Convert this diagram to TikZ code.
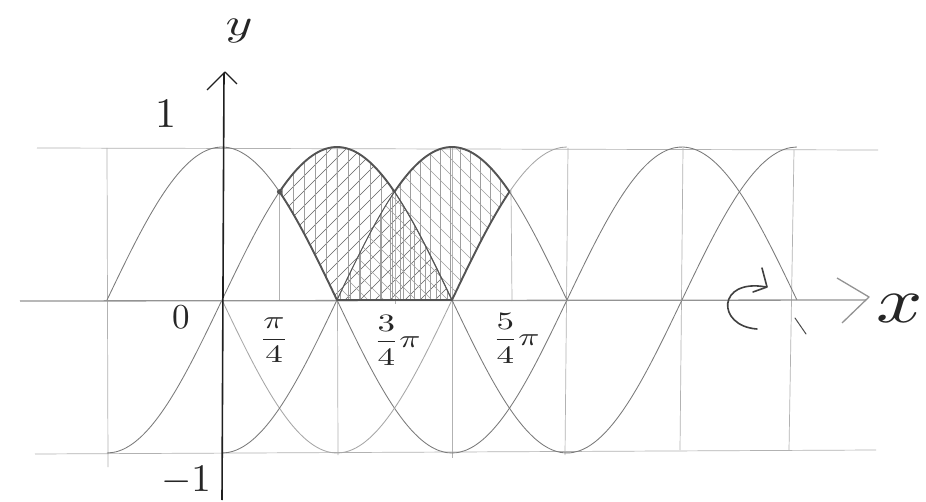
\documentclass[tikz,border=0pt]{standalone}
\usetikzlibrary{calc}
\definecolor{gridc}{gray}{0.70}
\definecolor{curvec}{gray}{0.48}
\definecolor{darkc}{gray}{0.33}
\definecolor{axisc}{gray}{0.12}
\definecolor{hatchA}{gray}{0.38}
\definecolor{hatchB}{gray}{0.62}
\tikzset{
  gridline/.style={draw=gridc, line width=0.7pt},
  curve/.style={draw=curvec, line width=0.85pt},
  outline/.style={draw=darkc, line width=1.9pt, line join=round, line cap=round},
  inner curve/.style={draw=darkc, line width=1.1pt},
  lbl/.style={text=black!85, inner sep=0pt},
  hatchline/.style={line width=0.6pt},
}
\begin{document}
\begin{tikzpicture}[x=1pt,y=-1pt]
\useasboundingbox (0,0) rectangle (926,502);
\fill[white] (0,0) rectangle (926,502);

% ---------- hatching of region A (between sin and cos / axis) ----------
\begin{scope}
  \clip plot[smooth,samples=40,domain=pi/4:pi] ({222+73.2*\x},{300-153*sin(\x r)})
        -- (337,300)
        -- plot[smooth,samples=30,domain=pi/2:pi/4] ({222+73.2*\x},{300-153*cos(\x r)}) -- cycle;
  \foreach \a in {0,15,...,480} \draw[hatchline, draw=hatchA] (\a,330) -- ++(260,-260);
  \foreach \a in {282,293,...,450} \draw[hatchline, draw=hatchB] (\a,140) -- (\a,305);
\end{scope}
% ---------- hatching of region B (reflected part) ----------
\begin{scope}
  \clip plot[smooth,samples=40,domain=pi/2:5*pi/4] ({222+73.2*\x},{300+153*cos(\x r)})
        -- plot[smooth,samples=20,domain=5*pi/4:pi] ({222+73.2*\x},{300+153*sin(\x r)})
        -- (337,300) -- cycle;
  \foreach \a in {90,106,...,520} \draw[hatchline, draw=hatchB] (\a,70) -- ++(250,250);
  \foreach \a in {340,350,...,512} \draw[hatchline, draw=hatchB] (\a,140) -- (\a,305);
\end{scope}

% ---------- grid lines ----------
\draw[gridline] (37,148) -- (878,150);
\draw[gridline] (35,454) -- (876,450);
\draw[gridline] (107,148) -- (108,467);
\draw[gridline] (279,190) -- (279,300);
\draw[gridline] (337,148) -- (338,455);
\draw[gridline] (395,190) -- (395,304);
\draw[gridline] (452,148) -- (452,458);
\draw[gridline] (511,190) -- (512,301);
\draw[gridline] (568,148) -- (565,455);
\draw[gridline] (683,148) -- (680,450);
\draw[gridline] (794,150) -- (789,450);

% ---------- curves ----------
\draw[curve] plot[smooth,samples=80,domain=-pi/2:5*pi/2] ({222+73.2*\x},{300-153*sin(\x r)});
\draw[curve] plot[smooth,samples=80,domain=-pi/2:5*pi/2] ({222+73.2*\x},{300-153*cos(\x r)});
\draw[curve, draw=gray!70] plot[smooth,samples=50,domain=0:3*pi/2] ({222+73.2*\x},{300+153*sin(\x r)});
\draw[curve] plot[smooth,samples=50,domain=0:3*pi/2] ({222+73.2*\x},{300+153*cos(\x r)});

% ---------- x axis ----------
\draw[draw=gray!85, line width=1.3pt] (20,301) -- (866,300);
\draw[draw=gray!85, line width=1.3pt, line join=round] (837,278) -- (869,297) -- (842,323);

% ---------- inner dark curves and outline ----------
\draw[inner curve] plot[smooth,samples=20,domain=3*pi/4:pi] ({222+73.2*\x},{300-153*sin(\x r)});
\draw[inner curve, line width=0.8pt] plot[smooth,samples=20,domain=pi/2:3*pi/4] ({222+73.2*\x},{300+153*cos(\x r)});
\draw[outline] plot[smooth,samples=40,domain=pi/4:3*pi/4] ({222+73.2*\x},{300-153*sin(\x r)})
   -- plot[smooth,samples=40,domain=3*pi/4:5*pi/4] ({222+73.2*\x},{300+153*cos(\x r)})
   -- plot[smooth,samples=20,domain=5*pi/4:pi] ({222+73.2*\x},{300+153*sin(\x r)})
   -- (337,300)
   -- plot[smooth,samples=30,domain=pi/2:pi/4] ({222+73.2*\x},{300-153*cos(\x r)});
\fill[darkc] (279.5,191.8) circle (2.6pt);

% ---------- y axis ----------
\draw[draw=axisc, line width=1.6pt] (222,500) -- (224,73);
\draw[draw=axisc, line width=1.4pt, line join=round] (207,90) -- (225,72) -- (237,84);

% ---------- rotation arrow ----------
\draw[draw=black!75, line width=1.6pt, line cap=round] (757,329) .. controls (716,326) and (717,278) .. (766,287);
\draw[draw=black!75, line width=1.6pt, line cap=round, line join=round] (762,268) -- (767,287) -- (753,292);
\draw[draw=black!70, line width=1pt, line cap=round] (795,318) -- (806,334);

% ---------- labels ----------
\node[lbl, scale=3.8, xscale=1.35] (ylab) at (239,31) {$y$};
\node[lbl, scale=6.5, xscale=1.25] (xlab) at (900,309) {$x$};
\node[lbl, scale=4.2] (one) at (166,114) {1};
\node[lbl, scale=3.9] (mone) at (186,481) {$-1$};
\node[lbl, scale=3.5] (zero) at (181,317) {0};
\node[lbl, scale=2.5, xscale=1.4] (piq) at (274,340) {$\displaystyle\frac{\pi}{4}$};
\node[lbl, scale=2.5, xscale=1.4] (tpiq) at (397,340) {$\displaystyle\frac{3}{4}\pi$};
\node[lbl, scale=2.5, xscale=1.4] (fpiq) at (516,338) {$\displaystyle\frac{5}{4}\pi$};
\end{tikzpicture}
\end{document}
